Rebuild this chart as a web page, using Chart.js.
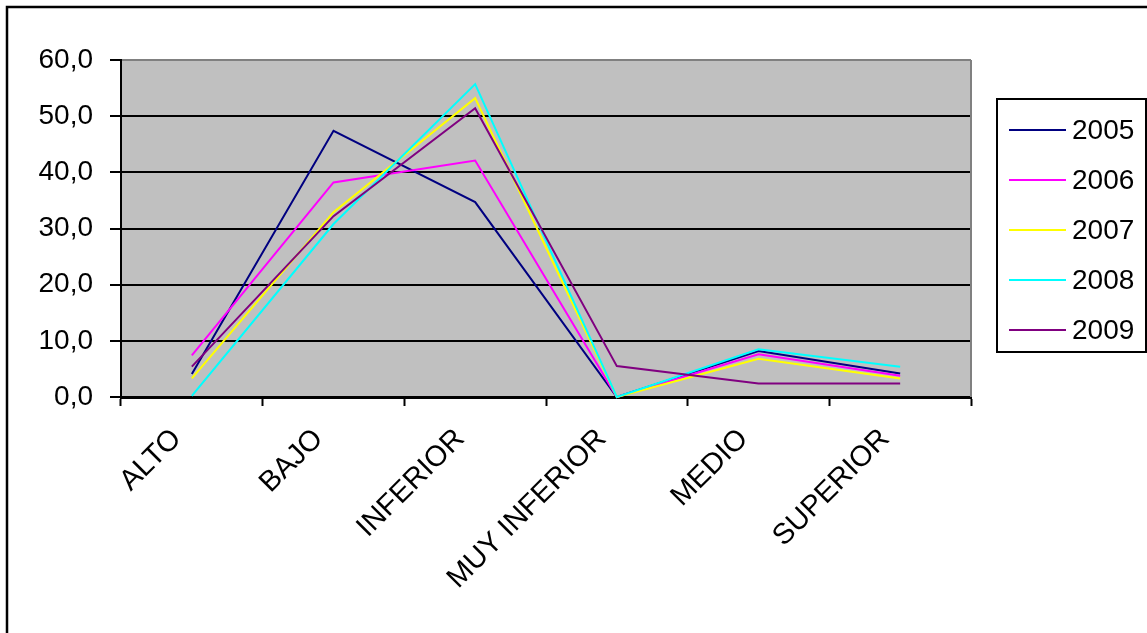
<!DOCTYPE html>
<html>
<head>
<meta charset="utf-8">
<script src="https://cdn.jsdelivr.net/npm/chart.js@4/dist/chart.umd.min.js"></script>
<style>
  html, body { margin: 0; padding: 0; background: #ffffff; }
  #wrap { width: 1147px; height: 633px; }
</style>
</head>
<body>
<div id="wrap"><canvas id="c" width="1147" height="633"></canvas></div>
<script>
const categories = ['ALTO', 'BAJO', 'INFERIOR', 'MUY INFERIOR', 'MEDIO', 'SUPERIOR'];
const seriesNames = ['2005', '2006', '2007', '2008', '2009'];
const s2005 = [4.1, 47.4, 34.7, 0.0, 8.2, 4.2];
const s2006 = [7.4, 38.2, 42.1, 0.0, 7.6, 3.8];
const s2007 = [3.3, 32.9, 53.2, 0.0, 6.8, 3.3];
const s2008 = [0.2, 30.8, 55.7, 0.0, 8.5, 5.4];
const s2009 = [5.4, 32.2, 51.4, 5.5, 2.4, 2.4];
const seriesColors = ['#000080', '#FF00FF', '#FFFF00', '#00FFFF', '#800080'];
const yTickLabels = ['0,0', '10,0', '20,0', '30,0', '40,0', '50,0', '60,0'];

const seriesValues = [s2005, s2006, s2007, s2008, s2009];
const FONT = "'Liberation Sans', Arial, sans-serif";

const frameAndLegend = {
  id: 'frameAndLegend',
  beforeDraw(chart) {
    const {ctx, chartArea: a} = chart;
    ctx.save();
    ctx.fillStyle = '#ffffff';
    ctx.fillRect(0, 0, chart.width, chart.height);
    ctx.fillStyle = '#C0C0C0';
    ctx.fillRect(a.left, a.top, a.right - a.left, a.bottom - a.top);
    ctx.restore();
  },
  beforeDatasetsDraw(chart) {
    const {ctx, chartArea: a} = chart;
    ctx.save();
    ctx.strokeStyle = '#808080';
    ctx.lineWidth = 2;
    ctx.beginPath();
    ctx.moveTo(a.right, a.top);
    ctx.lineTo(a.right, a.bottom);
    ctx.stroke();
    ctx.restore();
  },
  afterDraw(chart) {
    const {ctx} = chart;
    ctx.save();
    // outer frame
    ctx.strokeStyle = '#000000';
    ctx.lineWidth = 2.5;
    ctx.strokeRect(7, 7, 1300, 800);
    // legend box
    const lx = 997, ly = 99, lw = 149, lh = 253;
    ctx.lineWidth = 2;
    ctx.strokeRect(lx, ly, lw, lh);
    ctx.font = '28px ' + FONT;
    ctx.textBaseline = 'middle';
    ctx.textAlign = 'left';
    chart.data.datasets.forEach((ds, i) => {
      const y = 130 + i * 50;
      ctx.strokeStyle = ds.borderColor;
      ctx.lineWidth = 2;
      ctx.beginPath();
      ctx.moveTo(1009, y);
      ctx.lineTo(1066, y);
      ctx.stroke();
      ctx.fillStyle = '#000000';
      ctx.fillText(ds.label, 1072, y + 1);
    });
    ctx.restore();
  }
};

new Chart(document.getElementById('c'), {
  type: 'line',
  data: {
    labels: categories,
    datasets: seriesNames.map((name, i) => ({
      label: name,
      data: seriesValues[i],
      borderColor: seriesColors[i],
      backgroundColor: seriesColors[i],
      borderWidth: 2,
      pointRadius: 0,
      tension: 0,
      fill: false,
      clip: false,
      order: seriesNames.length - i
    }))
  },
  options: {
    responsive: false,
    animation: false,
    devicePixelRatio: 1,
    layout: { padding: { left: 0, top: 60, right: 176, bottom: 0 } },
    plugins: {
      legend: { display: false },
      tooltip: { enabled: false },
      title: { display: false }
    },
    scales: {
      x: {
        type: 'category',
        offset: true,
        afterFit(scale) { scale.height = 236; },
        grid: {
          offset: true,
          drawOnChartArea: false,
          drawTicks: true,
          tickLength: 9,
          tickWidth: 2,
          tickColor: '#000000'
        },
        border: { display: true, color: '#000000', width: 3 },
        ticks: {
          autoSkip: false,
          maxRotation: 45,
          minRotation: 45,
          padding: 16,
          labelOffset: -15,
          color: '#000000',
          font: { family: FONT, size: 29 }
        }
      },
      y: {
        min: 0,
        max: 60,
        afterFit(scale) { scale.width = 121; },
        grid: {
          color: (c) => (c.tick && c.tick.value === 60 ? '#808080' : '#000000'),
          lineWidth: 2,
          drawTicks: true,
          tickLength: 11,
          tickColor: '#000000',
          tickWidth: 2
        },
        border: { display: true, color: '#000000', width: 2 },
        ticks: {
          stepSize: 10,
          padding: 17,
          color: '#000000',
          font: { family: FONT, size: 28 },
          callback: (v) => yTickLabels[Math.round(v / 10)]
        }
      }
    }
  },
  plugins: [frameAndLegend]
});
</script>
</body>
</html>
